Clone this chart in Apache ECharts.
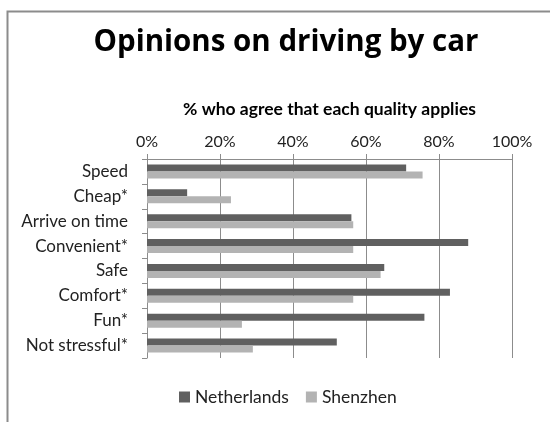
<!DOCTYPE html>
<html>
<head>
<meta charset="utf-8">
<script src="https://cdn.jsdelivr.net/npm/echarts@6/dist/echarts.min.js"></script>
<style>
  html, body { margin: 0; padding: 0; background: #fff; }
  #chart { width: 550px; height: 422px; }
</style>
</head>
<body>
<div id="chart"></div>
<script>
// Share of respondents agreeing that each quality applies to driving (%)
const categories = ['Speed', 'Cheap*', 'Arrive on time', 'Convenient*', 'Safe', 'Comfort*', 'Fun*', 'Not stressful*'];
const netherlands = [71, 11, 56, 88, 65, 83, 76, 52];
const shenzhen = [75.5, 23, 56.5, 56.5, 64, 56.5, 26, 29];
const seriesNames = ['Netherlands', 'Shenzhen'];
const xTicks = { min: 0, max: 100, interval: 20 };

const FONT = 'Lato, "Open Sans", sans-serif';
const TITLE_FONT = '"Open Sans", Lato, sans-serif';
const chart = echarts.init(document.getElementById('chart'), null, { renderer: 'canvas' });

chart.setOption({
  animation: false,
  backgroundColor: '#fff',
  color: ['#606060', '#b3b3b3'],
  title: {
    text: 'Opinions on driving by car',
    left: 281,
    textAlign: 'center',
    top: 23,
    textStyle: { fontFamily: TITLE_FONT, fontWeight: 'bold', fontSize: 29.5, color: '#000' }
  },
  legend: {
    data: seriesNames,
    top: 383,
    left: 174,
    itemWidth: 11,
    itemHeight: 11,
    itemGap: 17,
    icon: 'rect',
    textStyle: { fontFamily: FONT, fontSize: 17.5, color: '#222' }
  },
  grid: { left: 147, right: 38, top: 159, bottom: 64, containLabel: false },
  xAxis: {
    type: 'value',
    position: 'top',
    min: xTicks.min,
    max: xTicks.max,
    interval: xTicks.interval,
    name: '% who agree that each quality applies',
    nameLocation: 'middle',
    nameGap: 41,
    nameTextStyle: { fontFamily: FONT, fontWeight: 'bold', fontSize: 17.5, color: '#000' },
    axisLine: { show: true, lineStyle: { color: '#8c8c8c', width: 1 } },
    axisTick: { show: true, length: 5, lineStyle: { color: '#8c8c8c' } },
    axisLabel: { formatter: '{value}%', margin: 9, fontFamily: FONT, fontSize: 16, color: '#222' },
    splitLine: { show: true, lineStyle: { color: '#8c8c8c', width: 1 } }
  },
  yAxis: {
    type: 'category',
    inverse: true,
    data: categories,
    axisLine: { show: true, lineStyle: { color: '#8c8c8c', width: 1 } },
    axisTick: { show: true, length: 5, lineStyle: { color: '#8c8c8c' } },
    axisLabel: { margin: 19, fontFamily: FONT, fontSize: 17, color: '#222' },
    splitLine: { show: false }
  },
  series: [
    { name: seriesNames[0], type: 'bar', data: netherlands, barGap: '0%', barCategoryGap: '44%' },
    { name: seriesNames[1], type: 'bar', data: shenzhen, barGap: '0%', barCategoryGap: '44%' }
  ],
  graphic: [
    {
      type: 'rect',
      shape: { x: 7.5, y: 11.5, width: 600, height: 500 },
      style: { fill: 'none', stroke: '#8c8c8c', lineWidth: 2 },
      silent: true
    }
  ]
});
</script>
</body>
</html>
